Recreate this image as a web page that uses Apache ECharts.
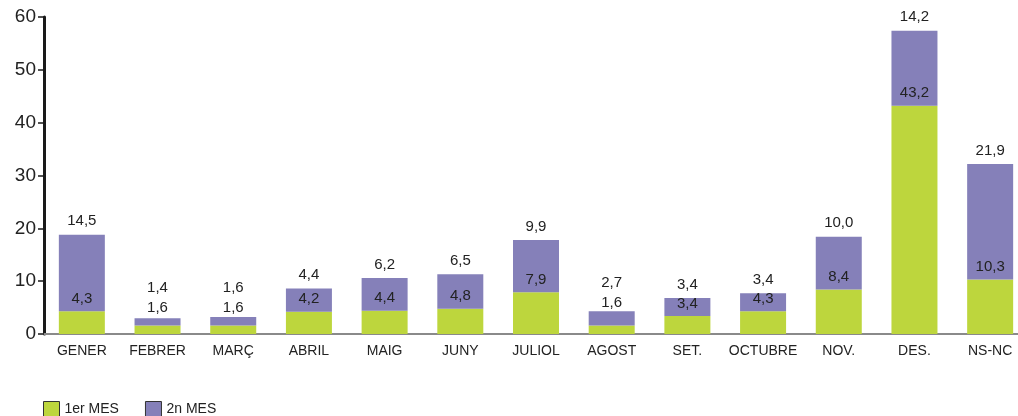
<!DOCTYPE html>
<html>
<head>
<meta charset="utf-8">
<script src="https://cdn.jsdelivr.net/npm/echarts@6/dist/echarts.min.js"></script>
<style>
  body { margin: 0; background: #fff; }
  #chart { width: 1018px; height: 416px; }
</style>
</head>
<body>
<div id="chart"></div>
<script>
const categories = ['GENER', 'FEBRER', 'MARÇ', 'ABRIL', 'MAIG', 'JUNY', 'JULIOL', 'AGOST', 'SET.', 'OCTUBRE', 'NOV.', 'DES.', 'NS-NC']
const mes1 = [4.3, 1.6, 1.6, 4.2, 4.4, 4.8, 7.9, 1.6, 3.4, 4.3, 8.4, 43.2, 10.3]
const mes2 = [14.5, 1.4, 1.6, 4.4, 6.2, 6.5, 9.9, 2.7, 3.4, 3.4, 10.0, 14.2, 21.9]
// thin top segments: both labels are lifted above the bar (offsets in px)
const liftMes1 = { FEBRER: -5, 'MARÇ': -5, AGOST: -10 }
const liftMes2 = { FEBRER: -17, 'MARÇ': -16, AGOST: -15 }

const fmt = v => v.toFixed(1).replace('.', ',')
const labelFont = { fontFamily: 'Liberation Sans, Arial, sans-serif', fontSize: 15, color: '#222' }

let d1 = mes1.map((v, i) => {
  let item = { value: v }
  if (liftMes1[categories[i]] !== undefined) {
    item.label = { offset: [0, liftMes1[categories[i]]] }
  }
  return item
})
let d2 = mes2.map((v, i) => {
  let item = { value: v }
  if (liftMes2[categories[i]] !== undefined) {
    item.label = { offset: [0, liftMes2[categories[i]]] }
  }
  return item
})

let chart = echarts.init(document.getElementById('chart'))
chart.setOption({
  animation: false,
  grid: { left: 44, top: 17, width: 984, height: 317, outerBoundsMode: 'none', containLabel: false },
  legend: {
    left: 38,
    top: 396,
    itemWidth: 16,
    itemHeight: 15,
    itemGap: 26,
    icon: 'rect',
    itemStyle: { borderColor: '#333', borderWidth: 1 },
    textStyle: { fontFamily: 'Liberation Sans, Arial, sans-serif', fontSize: 14, color: '#222' },
    data: ['1er MES', '2n MES']
  },
  xAxis: {
    type: 'category',
    data: categories,
    axisLine: { lineStyle: { color: '#8a8a8a', width: 2 } },
    axisTick: { show: false },
    axisLabel: { interval: 0, fontFamily: 'Liberation Sans, Arial, sans-serif', fontSize: 14, color: '#222', margin: 10 }
  },
  yAxis: {
    type: 'value',
    min: 0,
    max: 60,
    interval: 10,
    splitLine: { show: false },
    axisLine: { show: true, lineStyle: { color: '#1a1a1a', width: 3 } },
    axisTick: { show: true, length: 6, lineStyle: { color: '#1a1a1a', width: 1.5 } },
    axisLabel: { fontFamily: 'Liberation Sans, Arial, sans-serif', fontSize: 19, color: '#222', margin: 8 }
  },
  series: [
    {
      name: '1er MES',
      type: 'bar',
      stack: 'mes',
      barWidth: 46,
      data: d1,
      itemStyle: { color: '#bdd63d' },
      label: { show: true, position: 'top', distance: 5, formatter: p => fmt(p.value), ...labelFont }
    },
    {
      name: '2n MES',
      type: 'bar',
      stack: 'mes',
      barWidth: 46,
      data: d2,
      itemStyle: { color: '#8580b9' },
      label: { show: true, position: 'top', distance: 6, formatter: p => fmt(p.value), ...labelFont }
    }
  ]
})
</script>
</body>
</html>
